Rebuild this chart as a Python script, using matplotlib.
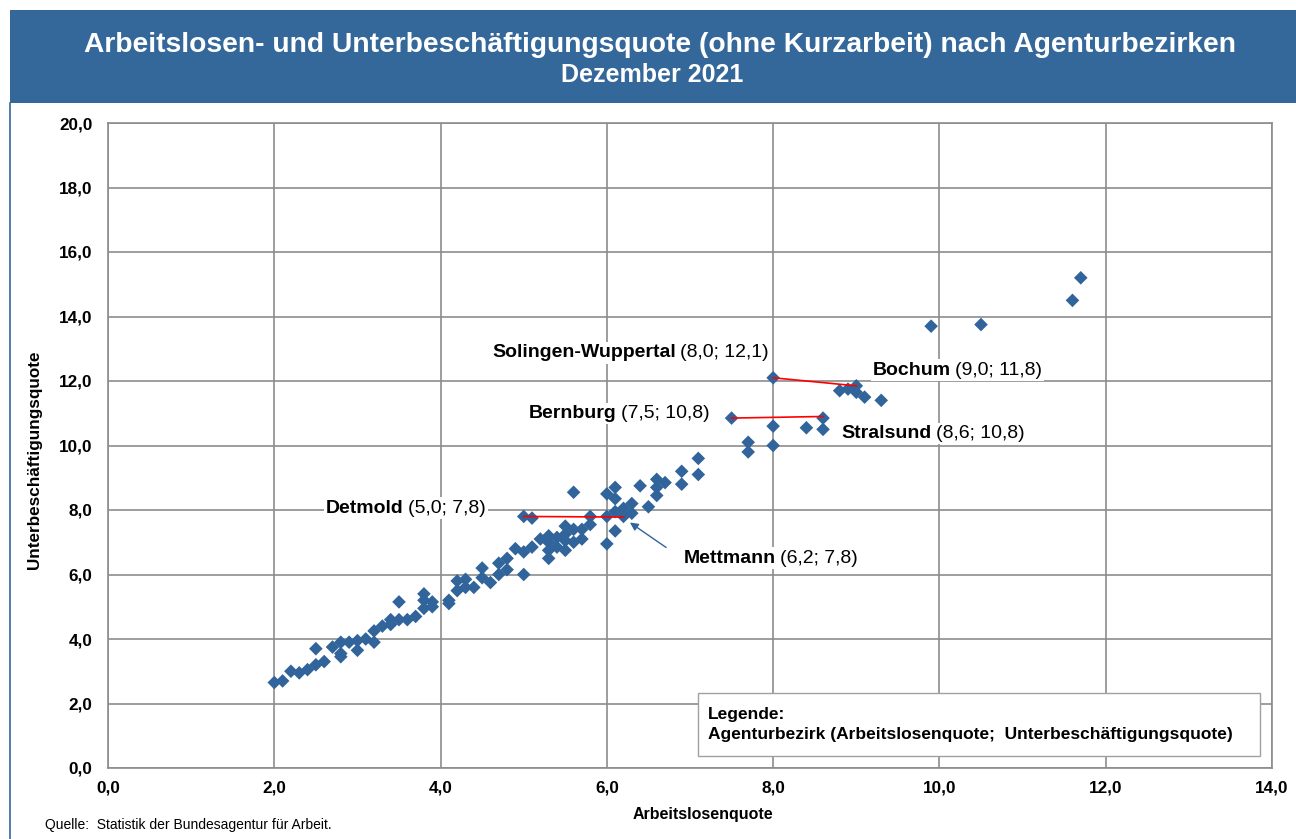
import numpy as np
import matplotlib
matplotlib.use('Agg')
import matplotlib.pyplot as plt
from matplotlib.ticker import FuncFormatter, MultipleLocator
from matplotlib.offsetbox import TextArea, HPacker, AnnotationBbox
from matplotlib.patches import Rectangle
from matplotlib.lines import Line2D

plt.rcParams['font.family'] = ['Liberation Sans', 'DejaVu Sans']

# Arbeitslosenquote / Unterbeschaeftigungsquote je Agenturbezirk
alq = [2.0, 2.1, 2.2, 2.3, 2.4, 2.5, 2.5, 2.6, 2.7, 2.8, 2.8, 2.8, 2.9, 3.0, 3.0,
       3.1, 3.2, 3.2, 3.3, 3.4, 3.4, 3.5, 3.5, 3.6, 3.7, 3.8, 3.8, 3.8, 3.9, 3.9,
       4.1, 4.1, 4.2, 4.2, 4.3, 4.3, 4.4, 4.5, 4.5, 4.6, 4.7, 4.7, 4.8, 4.8, 4.9,
       5.0, 5.0, 5.0, 5.1, 5.1, 5.2, 5.3, 5.3, 5.3, 5.3, 5.4, 5.4, 5.5, 5.5, 5.5,
       5.5, 5.6, 5.6, 5.6, 5.7, 5.7, 5.8, 5.8, 6.0, 6.0, 6.0, 6.1, 6.1, 6.1, 6.1,
       6.2, 6.2, 6.3, 6.3, 6.4, 6.5, 6.6, 6.6, 6.6, 6.7, 6.9, 6.9, 7.1, 7.1, 7.5,
       7.7, 7.7, 8.0, 8.0, 8.0, 8.4, 8.6, 8.6, 8.8, 8.9, 9.0, 9.0, 9.1, 9.3, 9.9,
       10.5, 11.6, 11.7]
ubq = [2.65, 2.7, 3.0, 2.95, 3.05, 3.2, 3.7, 3.3, 3.75, 3.9, 3.55, 3.45, 3.9, 3.95, 3.65,
       4.0, 4.25, 3.9, 4.4, 4.6, 4.45, 5.15, 4.6, 4.6, 4.7, 5.4, 5.2, 4.95, 5.15, 5.0,
       5.1, 5.2, 5.8, 5.5, 5.85, 5.6, 5.6, 6.2, 5.9, 5.75, 6.0, 6.35, 6.5, 6.15, 6.8,
       6.7, 6.0, 7.8, 7.75, 6.85, 7.1, 7.2, 7.0, 6.75, 6.5, 7.15, 6.85, 7.5, 7.25, 7.05,
       6.75, 8.55, 7.4, 7.0, 7.1, 7.4, 7.55, 7.8, 8.5, 7.8, 6.95, 8.7, 8.35, 7.95, 7.35,
       8.05, 7.8, 8.2, 7.9, 8.75, 8.1, 8.95, 8.7, 8.45, 8.85, 9.2, 8.8, 9.6, 9.1, 10.85,
       10.1, 9.8, 12.1, 10.6, 10.0, 10.55, 10.85, 10.5, 11.7, 11.75, 11.85, 11.65, 11.5, 11.4, 13.7,
       13.75, 14.5, 15.2]

# markierte Bezirke
names = ['Solingen-Wuppertal', 'Bochum', 'Bernburg', 'Stralsund', 'Detmold', 'Mettmann']
vals = ['(8,0; 12,1)', '(9,0; 11,8)', '(7,5; 10,8)', '(8,6; 10,8)', '(5,0; 7,8)', '(6,2; 7,8)']
label_pos = [(4.62, 12.87), (9.2, 12.34), (5.06, 11.0), (8.82, 10.36), (2.62, 8.06), (6.93, 6.51)]

# rote Verbindungslinien (von, nach)
pairs = [((5.0, 7.8), (6.2, 7.78)), ((7.5, 10.85), (8.6, 10.9)), ((8.0, 12.1), (9.0, 11.85))]

blue = '#30649A'

fig = plt.figure(figsize=(12.96, 8.39), dpi=100)
ax = fig.add_axes([108/1296, 1-768/839, (1272-108)/1296, (768-123)/839])

# Titelbalken
fig.patches.append(Rectangle((10/1296, 1-103/839), 1.0, 93/839, transform=fig.transFigure,
                             facecolor='#34679A', edgecolor='none', zorder=0))
fig.lines.append(Line2D([10/1296, 10/1296], [0, 1-103/839], transform=fig.transFigure,
                        color='#34679A', lw=1.2))
fig.text(0.509, 1-45/839, 'Arbeitslosen- und Unterbeschäftigungsquote (ohne Kurzarbeit) nach Agenturbezirken',
         color='white', fontsize=20.3, fontweight='bold', ha='center', va='center')
fig.text(0.503, 1-75/839, 'Dezember 2021', color='white', fontsize=18, fontweight='bold',
         ha='center', va='center')

ax.scatter(alq, ubq, marker='D', s=48, color=blue, edgecolors='none', zorder=3)

for (p0, p1) in pairs:
    ax.plot([p0[0], p1[0]], [p0[1], p1[1]], color='red', lw=1.2, zorder=4)

ax.annotate('', xy=(6.25, 7.66), xytext=(6.74, 6.79),
            arrowprops=dict(arrowstyle='-|>', color=blue, lw=1.0, mutation_scale=12), zorder=4)

for name, v, (lx, ly) in zip(names, vals, label_pos):
    t1 = TextArea(name, textprops=dict(fontweight='bold', fontsize=14))
    t2 = TextArea(v, textprops=dict(fontsize=14))
    box = HPacker(children=[t1, t2], align='baseline', pad=0, sep=3)
    ab = AnnotationBbox(box, (lx, ly), xycoords='data', box_alignment=(0, 0.5), frameon=True,
                        pad=0.15, bboxprops=dict(facecolor='white', edgecolor='none'))
    ab.set_zorder(2)
    ax.add_artist(ab)

ax.set_xlim(0, 14)
ax.set_ylim(0, 20)
ax.xaxis.set_major_locator(MultipleLocator(2))
ax.yaxis.set_major_locator(MultipleLocator(2))
fmt = FuncFormatter(lambda v, p: ('%.1f' % v).replace('.', ','))
ax.xaxis.set_major_formatter(fmt)
ax.yaxis.set_major_formatter(fmt)
ax.tick_params(length=0, labelsize=12.3)
ax.tick_params(axis='y', pad=11)
ax.tick_params(axis='x', pad=9)
for lab in ax.get_xticklabels() + ax.get_yticklabels():
    lab.set_fontweight('bold')
ax.grid(True, color='#8C8C8C', lw=1.2)
ax.set_axisbelow(True)
for s in ax.spines.values():
    s.set_color('#8C8C8C')
    s.set_linewidth(1.2)

ax.set_xlabel('Arbeitslosenquote', fontsize=11.5, fontweight='bold')
ax.xaxis.set_label_coords((703-108)/1164, -0.061)
ax.set_ylabel('Unterbeschäftigungsquote', fontsize=12.3, fontweight='bold')
ax.yaxis.set_label_coords(-0.0567, (768-460)/645)

# Legende
fig.patches.append(Rectangle((698/1296, 1-756/839), (1260-698)/1296, 63/839, transform=fig.transFigure,
                             facecolor='white', edgecolor='#A0A0A0', lw=1.0, zorder=5))
fig.text(708/1296, 1-715/839, 'Legende:', fontsize=12.5, fontweight='bold', va='center', zorder=6)
fig.text(708/1296, 1-734/839, 'Agenturbezirk (Arbeitslosenquote;  Unterbeschäftigungsquote)',
         fontsize=12.5, fontweight='bold', va='center', zorder=6)

fig.text(45/1296, 1-825/839, 'Quelle:  Statistik der Bundesagentur für Arbeit.', fontsize=10, va='center')

fig.savefig('out.png', dpi=100)
